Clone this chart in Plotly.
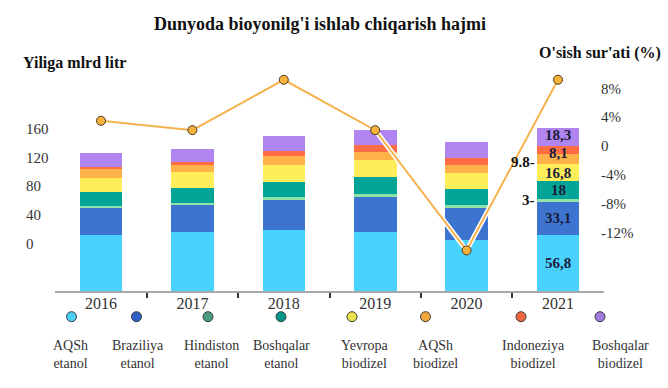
import plotly.graph_objects as go

# ---------------- data ----------------
years = [2016, 2017, 2018, 2019, 2020, 2021]
series_names = ["AQSh etanol", "Braziliya etanol", "Hindiston etanol", "Boshqalar etanol",
                "Yevropa biodizel", "AQSh biodizel", "Indoneziya biodizel", "Boshqalar biodizel"]
aqsh_etanol = [56.5, 59.5, 61.0, 59.5, 51.5, 56.8]
braziliya_etanol = [28.0, 27.0, 31.0, 35.0, 33.0, 33.1]
hindiston_etanol = [1.5, 2.3, 3.0, 2.7, 2.0, 3.0]
boshqalar_etanol = [13.5, 14.5, 15.0, 17.5, 16.0, 18.0]
yevropa_biodizel = [14.5, 16.5, 16.5, 16.8, 16.8, 16.8]
aqsh_biodizel = [9.0, 6.7, 9.8, 8.7, 7.3, 9.8]
indoneziya_biodizel = [2.0, 3.0, 4.3, 6.4, 7.3, 8.1]
boshqalar_biodizel = [13.5, 13.5, 15.5, 16.0, 16.0, 18.3]
growth_pct = [3.5, 2.2, 9.2, 2.2, -14.5, 9.2]

left_tick_vals = [0, 40, 80, 120, 160]
right_tick_vals = [-12, -8, -4, 0, 4, 8]
right_tick_text = ["-12%", "-8%", "-4%", "0", "4%", "8%"]
labels_2021_inside = ["56,8", "33,1", None, "18", "16,8", None, "8,1", "18,3"]
labels_2021_outside = [None, None, "3-", None, None, "9.8-", None, None]
legend_text = ["AQSh<br>etanol", "Braziliya<br>etanol", "Hindiston<br>etanol", "Boshqalar<br>etanol",
               "Yevropa<br>biodizel", "AQSh<br>biodizel", "Indoneziya<br>biodizel", "Boshqalar<br>biodizel"]

all_series = [aqsh_etanol, braziliya_etanol, hindiston_etanol, boshqalar_etanol,
              yevropa_biodizel, aqsh_biodizel, indoneziya_biodizel, boshqalar_biodizel]

# ---------------- style ----------------
W, H = 668, 388
def fx(px): return px / W
def fy(py): return 1 - py / H

bar_colors = ["#4AD2FF", "#3C74D0", "#8FE3A8", "#00A597",
              "#FFEE5A", "#FFB247", "#FF6D45", "#B085EF"]
legend_colors = ["#4CCFF5", "#2F62C6", "#4E9B83", "#00978A",
                 "#EEE34A", "#F4A63E", "#EE6640", "#A37AE2"]
legend_marker_px = [71.5, 136.5, 208, 281, 352, 425.5, 521, 600]
legend_text_px = [70, 138, 211, 281, 365, 435, 533, 620]
inside_label_shift = [0, 0, 0, 0, 0, 0, -3, 2]
SERIF = "Liberation Serif, Times New Roman, Times, serif"

plot_top, plot_bottom = 60, 291
bar_px_per_unit = 0.993
bar_range = [0, (plot_bottom - plot_top) / bar_px_per_unit]
g_zero, g_ppu = 146, 7.2
growth_range = [-(plot_bottom - g_zero) / g_ppu, (g_zero - plot_top) / g_ppu]
l_zero, l_ppu = 243.3, (243.3 - 129) / 160
left_range = [-(plot_bottom - l_zero) / l_ppu, (l_zero - plot_top) / l_ppu]

fig = go.Figure()
bar_w = 0.466
for name, vals, col in zip(series_names, all_series, bar_colors):
    fig.add_trace(go.Bar(x=years, y=vals, name=name, marker=dict(color=col, line=dict(width=0)),
                         width=bar_w, showlegend=False, xaxis="x", yaxis="y"))

fig.add_trace(go.Scatter(x=years, y=growth_pct, mode="lines", line=dict(color="white", width=5),
                         showlegend=False, hoverinfo="skip", xaxis="x", yaxis="y2"))
fig.add_trace(go.Scatter(x=years, y=growth_pct, mode="lines+markers",
                         line=dict(color="#F5B24E", width=2),
                         marker=dict(symbol="circle", size=9, color="#F7B23C",
                                     line=dict(color="#4A3A20", width=1)),
                         showlegend=False, xaxis="x", yaxis="y2"))
fig.add_trace(go.Scatter(x=[years[0]], y=[0], mode="markers", marker=dict(opacity=0),
                         showlegend=False, hoverinfo="skip", xaxis="x", yaxis="y3"))
fig.add_trace(go.Scatter(x=legend_marker_px, y=[316.7] * len(legend_marker_px), mode="markers",
                         marker=dict(size=10, color=legend_colors, line=dict(color="#3A3A3A", width=1)),
                         showlegend=False, hoverinfo="skip", xaxis="x2", yaxis="y4"))

annotations = []
cum = 0
last = len(years) - 1
for i, vals in enumerate(all_series):
    v = vals[last]
    mid = cum + v / 2
    cum += v
    if labels_2021_inside[i]:
        annotations.append(dict(x=years[last], y=mid, xref="x", yref="y",
                                text="<b>" + labels_2021_inside[i] + "</b>",
                                xanchor="center", yanchor="middle",
                                showarrow=False, font=dict(family=SERIF, size=15, color="#1C1C3A"),
                                yshift=inside_label_shift[i]))
    if labels_2021_outside[i]:
        annotations.append(dict(x=years[last] - bar_w / 2, y=mid, xref="x", yref="y",
                                text="<b>" + labels_2021_outside[i] + "</b>",
                                xanchor="right", yanchor="middle",
                                showarrow=False, font=dict(family=SERIF, size=15, color="#111111"),
                                yshift=-3 if i == 5 else 0))

for t, px in zip(legend_text, legend_text_px):
    annotations.append(dict(x=fx(px), y=fy(354), xref="paper", yref="paper", text=t, showarrow=False,
                            xanchor="center", yanchor="middle",
                            font=dict(family=SERIF, size=14, color="#333333"), align="center"))

annotations.append(dict(x=fx(320), y=fy(24), xref="paper", yref="paper",
                        xanchor="center", yanchor="middle",
                        text="<b>Dunyoda bioyonilg'i ishlab chiqarish hajmi</b>", showarrow=False,
                        font=dict(family=SERIF, size=18, color="#111111")))
annotations.append(dict(x=fx(21), y=fy(63), xref="paper", yref="paper",
                        xanchor="left", yanchor="middle",
                        text="<b>Yiliga mlrd litr</b>", showarrow=False,
                        font=dict(family=SERIF, size=16, color="#111111")))
annotations.append(dict(x=fx(663), y=fy(53), xref="paper", yref="paper",
                        xanchor="right", yanchor="middle",
                        text="<b>O'sish sur'ati (%)</b>", showarrow=False,
                        font=dict(family=SERIF, size=16, color="#111111")))

fig.update_layout(
    width=W, height=H, margin=dict(l=0, r=0, t=0, b=0),
    paper_bgcolor="white", plot_bgcolor="rgba(0,0,0,0)",
    barmode="stack",
    xaxis=dict(domain=[fx(55.3), fx(603.7)], range=[2015.5, 2021.5], anchor="y",
               tickvals=years, ticktext=[str(y) for y in years], ticks="",
               ticklabelstandoff=-3,
               tickfont=dict(family=SERIF, size=16, color="#333333"),
               showline=True, linecolor="#A8A8A8", linewidth=1.5, showgrid=False, zeroline=False,
               minor=dict(tickmode="array", tickvals=[y + 0.5 for y in years[:-1]], ticks="outside",
                          ticklen=5, tickwidth=1.5, tickcolor="#333333", showgrid=False)),
    yaxis=dict(domain=[fy(plot_bottom), fy(plot_top)], range=bar_range, visible=False, anchor="x"),
    yaxis2=dict(overlaying="y", side="right", anchor="free", position=fx(600), range=growth_range,
                tickvals=right_tick_vals, ticktext=right_tick_text, ticks="", showgrid=False,
                zeroline=False, showline=False,
                tickfont=dict(family=SERIF, size=15, color="#333333")),
    yaxis3=dict(overlaying="y", side="right", anchor="free", position=fx(25), range=left_range,
                tickvals=left_tick_vals, ticks="", showgrid=False, zeroline=False, showline=False,
                tickfont=dict(family=SERIF, size=15, color="#333333")),
    xaxis2=dict(domain=[0, 1], range=[0, W], visible=False, anchor="y4"),
    yaxis4=dict(domain=[0, fy(300)], range=[H, 300], visible=False, anchor="x2"),
    annotations=annotations,
)

fig.write_html("out.html", config={"displayModeBar": False},
               post_script="document.body.style.margin='0';")
